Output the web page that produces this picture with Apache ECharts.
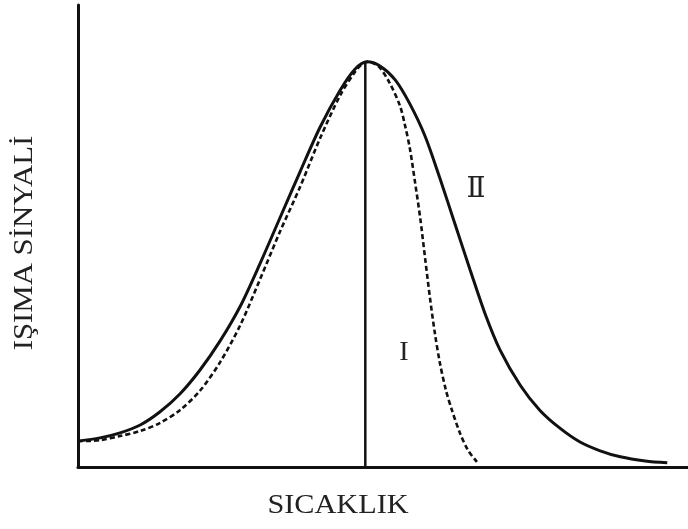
<!DOCTYPE html>
<html>
<head>
<meta charset="utf-8">
<script src="https://cdn.jsdelivr.net/npm/echarts@6/dist/echarts.min.js"></script>
<style>
  html, body { margin: 0; padding: 0; background: #fff; }
  #chart { width: 688px; height: 529px; }
</style>
</head>
<body>
<div id="chart"></div>
<script>
// Glow curve II (solid): temperature vs. signal, arbitrary units 0-100
const tempII   = [0, 3.6, 6.9, 10.2, 13.4, 16.7, 20.0, 23.3, 26.6, 29.8, 33.1, 36.4, 39.7, 43.0, 45.4, 47.4, 49.5, 52.0, 54.4, 56.9, 59.3, 61.8, 64.3, 66.7, 69.2, 72.5, 75.7, 79.0, 82.3, 85.6, 88.9, 93.0, 96.6];
const signalII = [5.6, 6.3, 7.4, 9.1, 11.9, 15.8, 21.0, 27.3, 34.8, 43.9, 53.9, 63.9, 73.6, 81.6, 86.1, 87.7, 86.8, 83.8, 78.6, 71.6, 62.6, 52.6, 42.6, 33.3, 25.3, 17.7, 12.3, 8.4, 5.4, 3.5, 2.2, 1.3, 0.9];

// Glow curve I (dashed)
const tempI   = [0, 3.6, 6.9, 10.2, 13.4, 16.7, 20.0, 23.3, 26.6, 29.8, 33.1, 36.4, 39.7, 43.0, 45.4, 46.4, 47.4, 49.2, 51.1, 52.8, 53.6, 54.4, 55.2, 56.1, 56.9, 57.7, 58.5, 59.3, 60.3, 61.3, 62.6, 63.9, 65.4];
const signalI = [5.6, 5.8, 6.7, 7.8, 9.5, 12.3, 16.5, 22.7, 30.7, 40.5, 50.9, 60.6, 71.2, 80.5, 85.5, 87.0, 87.7, 86.8, 83.1, 78.1, 74.0, 69.0, 62.1, 53.9, 45.2, 36.6, 29.0, 22.7, 16.7, 12.3, 7.4, 3.7, 1.1];

// Peak temperature marker
const peakTemp = [47.1, 47.1];
const peakSignal = [0, 87.7];

const axisTitleX = 'SICAKLIK';
const axisTitleY = 'IŞIMA SİNYALİ';
const curveLabels = ['Ⅱ', 'I'];

const zip = (xs, ys) => xs.map((x, i) => [x, ys[i]]);

const chart = echarts.init(document.getElementById('chart'));
const serif = '"Liberation Serif", "DejaVu Serif", serif';

chart.setOption({
  animation: false,
  backgroundColor: '#ffffff',
  grid: { left: 78, right: 0, top: 5, bottom: 62 },
  xAxis: {
    type: 'value', min: 0, max: 100,
    axisLine: { show: true, lineStyle: { color: '#111', width: 3 } },
    axisTick: { show: false }, axisLabel: { show: false }, splitLine: { show: false }
  },
  yAxis: {
    type: 'value', min: 0, max: 100,
    axisLine: { show: true, lineStyle: { color: '#111', width: 3 } },
    axisTick: { show: false }, axisLabel: { show: false }, splitLine: { show: false }
  },
  series: [
    {
      name: 'I', type: 'line', smooth: 0.3, symbol: 'none',
      data: zip(tempI, signalI),
      lineStyle: { color: '#111', width: 2.6, type: [5, 3] }
    },
    {
      name: 'II', type: 'line', smooth: 0.3, symbol: 'none',
      data: zip(tempII, signalII),
      lineStyle: { color: '#111', width: 3 }
    },
    {
      name: 'peak', type: 'line', symbol: 'none',
      data: zip(peakTemp, peakSignal),
      lineStyle: { color: '#111', width: 2.5 }
    }
  ],
  graphic: [
    {
      type: 'text', x: 338, y: 506, scaleX: 1.08,
      style: { text: axisTitleX, font: '28px ' + serif, fill: '#222', align: 'center', verticalAlign: 'middle' }
    },
    {
      type: 'text', x: 25, y: 243, rotation: Math.PI / 2, scaleX: 1.1,
      style: { text: axisTitleY, font: '28px ' + serif, fill: '#222', align: 'center', verticalAlign: 'middle' }
    },
    {
      type: 'text', x: 476, y: 190,
      style: { text: curveLabels[0], font: '28px "DejaVu Serif", serif', fill: '#222', align: 'center', verticalAlign: 'middle' }
    },
    {
      type: 'text', x: 404, y: 353,
      style: { text: curveLabels[1], font: '28px ' + serif, fill: '#222', align: 'center', verticalAlign: 'middle' }
    }
  ]
});
</script>
</body>
</html>
